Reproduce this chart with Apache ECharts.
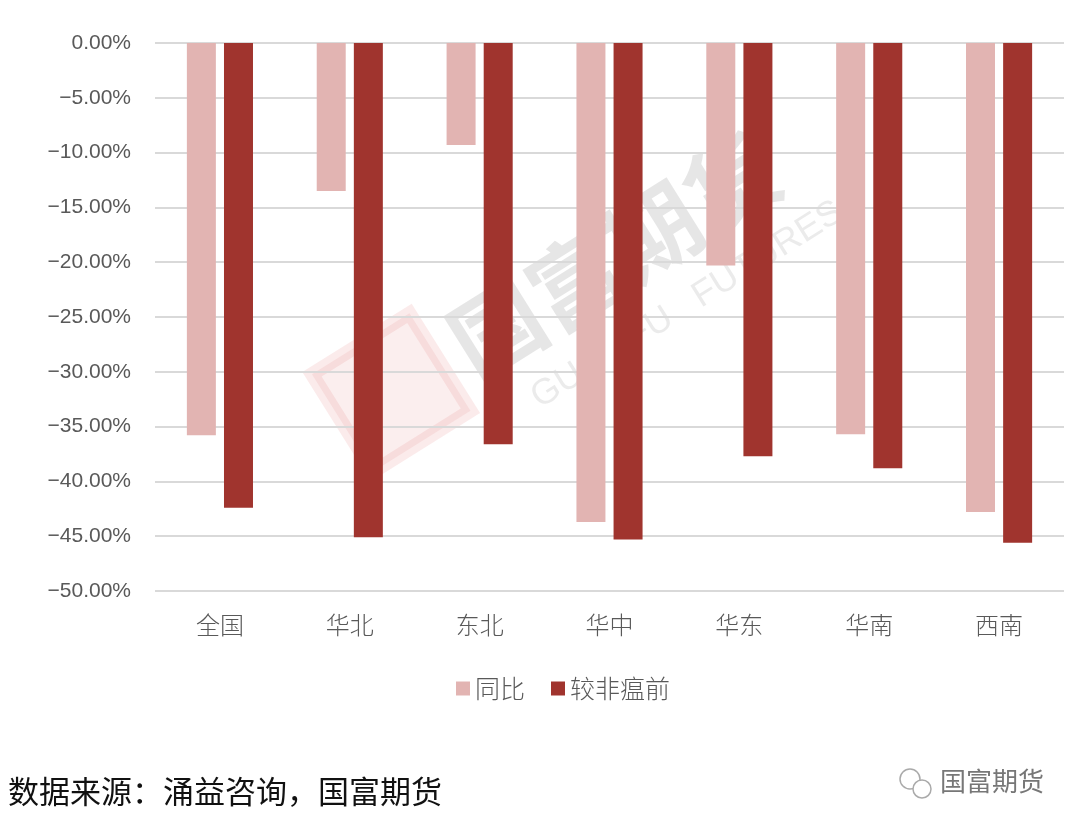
<!DOCTYPE html>
<html>
<head>
<meta charset="utf-8">
<script src="https://cdn.jsdelivr.net/npm/echarts@6/dist/echarts.min.js"></script>
<style>
html,body{margin:0;padding:0;background:#fff;}
#main{width:1080px;height:833px;}
</style>
</head>
<body>
<div id="main"></div>
<script>
const categories = ['全国', '华北', '东北', '华中', '华东', '华南', '西南'];
const seriesNames = ['同比', '较非瘟前'];
const yoy = [-35.8, -13.5, -9.3, -43.7, -20.3, -35.7, -42.8];
const vsPreASF = [-42.4, -45.1, -36.6, -45.3, -37.7, -38.8, -45.6];
const yMin = -50, yMax = 0, yStep = 5;
const sourceText = '数据来源：涌益咨询，国富期货';
const brandText = '国富期货';

const chart = echarts.init(document.getElementById('main'));
const cjk = '"Noto Sans CJK SC", "Noto Sans", sans-serif';
chart.setOption({
  backgroundColor: '#fff',
  animation: false,
  grid: { left: 155, right: 16, top: 43, bottom: 242, containLabel: false },
  legend: {
    data: seriesNames,
    bottom: 127,
    left: 451,
    itemWidth: 14, itemHeight: 14, itemGap: 26,
    icon: 'rect',
    textStyle: { fontSize: 25, color: '#595959', fontFamily: cjk, fontWeight: 300 }
  },
  xAxis: {
    type: 'category',
    data: categories,
    position: 'bottom',
    axisLine: { show: false },
    axisTick: { show: false },
    axisLabel: { fontSize: 24, color: '#595959', fontFamily: cjk, fontWeight: 300, margin: 22 }
  },
  yAxis: {
    type: 'value',
    min: yMin, max: yMax, interval: yStep,
    axisLine: { show: false },
    axisTick: { show: false },
    splitLine: { lineStyle: { color: '#d9d9d9', width: 2 } },
    axisLabel: {
      fontSize: 21, color: '#595959', margin: 24,
      fontFamily: '"Liberation Sans", Arial, sans-serif',
      formatter: v => (v < 0 ? '\u2212' + Math.abs(v).toFixed(2) : v.toFixed(2)) + '%'
    }
  },
  series: [
    { name: seriesNames[0], type: 'bar', data: yoy, barWidth: 29, barGap: '28%',
      itemStyle: { color: '#E2B4B2' } },
    { name: seriesNames[1], type: 'bar', data: vsPreASF, barWidth: 29,
      itemStyle: { color: '#A0342E' } }
  ],
  graphic: [
    { type: 'group', x: 560, y: 290, rotation: Math.PI * 32 / 180, z: 100, silent: true,
      children: [
        { type: 'rect', shape: { x: -255, y: -60, width: 115, height: 115 },
          style: { fill: 'rgba(220,90,90,0.10)', stroke: 'rgba(220,90,90,0.12)', lineWidth: 14 } },
        { type: 'text', style: { x: -120, y: 0, text: '国富期货', fontSize: 92, fontWeight: 'bold',
          fill: 'rgba(60,60,60,0.13)', fontFamily: cjk, verticalAlign: 'middle' } },
        { type: 'text', style: { x: -80, y: 80, text: 'GUO   FU   FUTURES', fontSize: 36,
          fill: 'rgba(60,60,60,0.10)', fontFamily: '"Liberation Sans", sans-serif', verticalAlign: 'middle' } }
      ]
    },
    { type: 'text', left: 8, top: 776, style: { text: sourceText, fontSize: 31, fill: '#111', fontFamily: cjk } },
    { type: 'circle', shape: { cx: 910, cy: 779, r: 10 }, style: { fill: 'none', stroke: '#aaa', lineWidth: 1.5 } },
    { type: 'circle', shape: { cx: 922, cy: 789, r: 9 }, style: { fill: '#fff', stroke: '#aaa', lineWidth: 1.5 } },
    { type: 'text', left: 940, top: 768, style: { text: brandText, fontSize: 26, fill: '#777', fontFamily: cjk } }
  ]
});
</script>
</body>
</html>
